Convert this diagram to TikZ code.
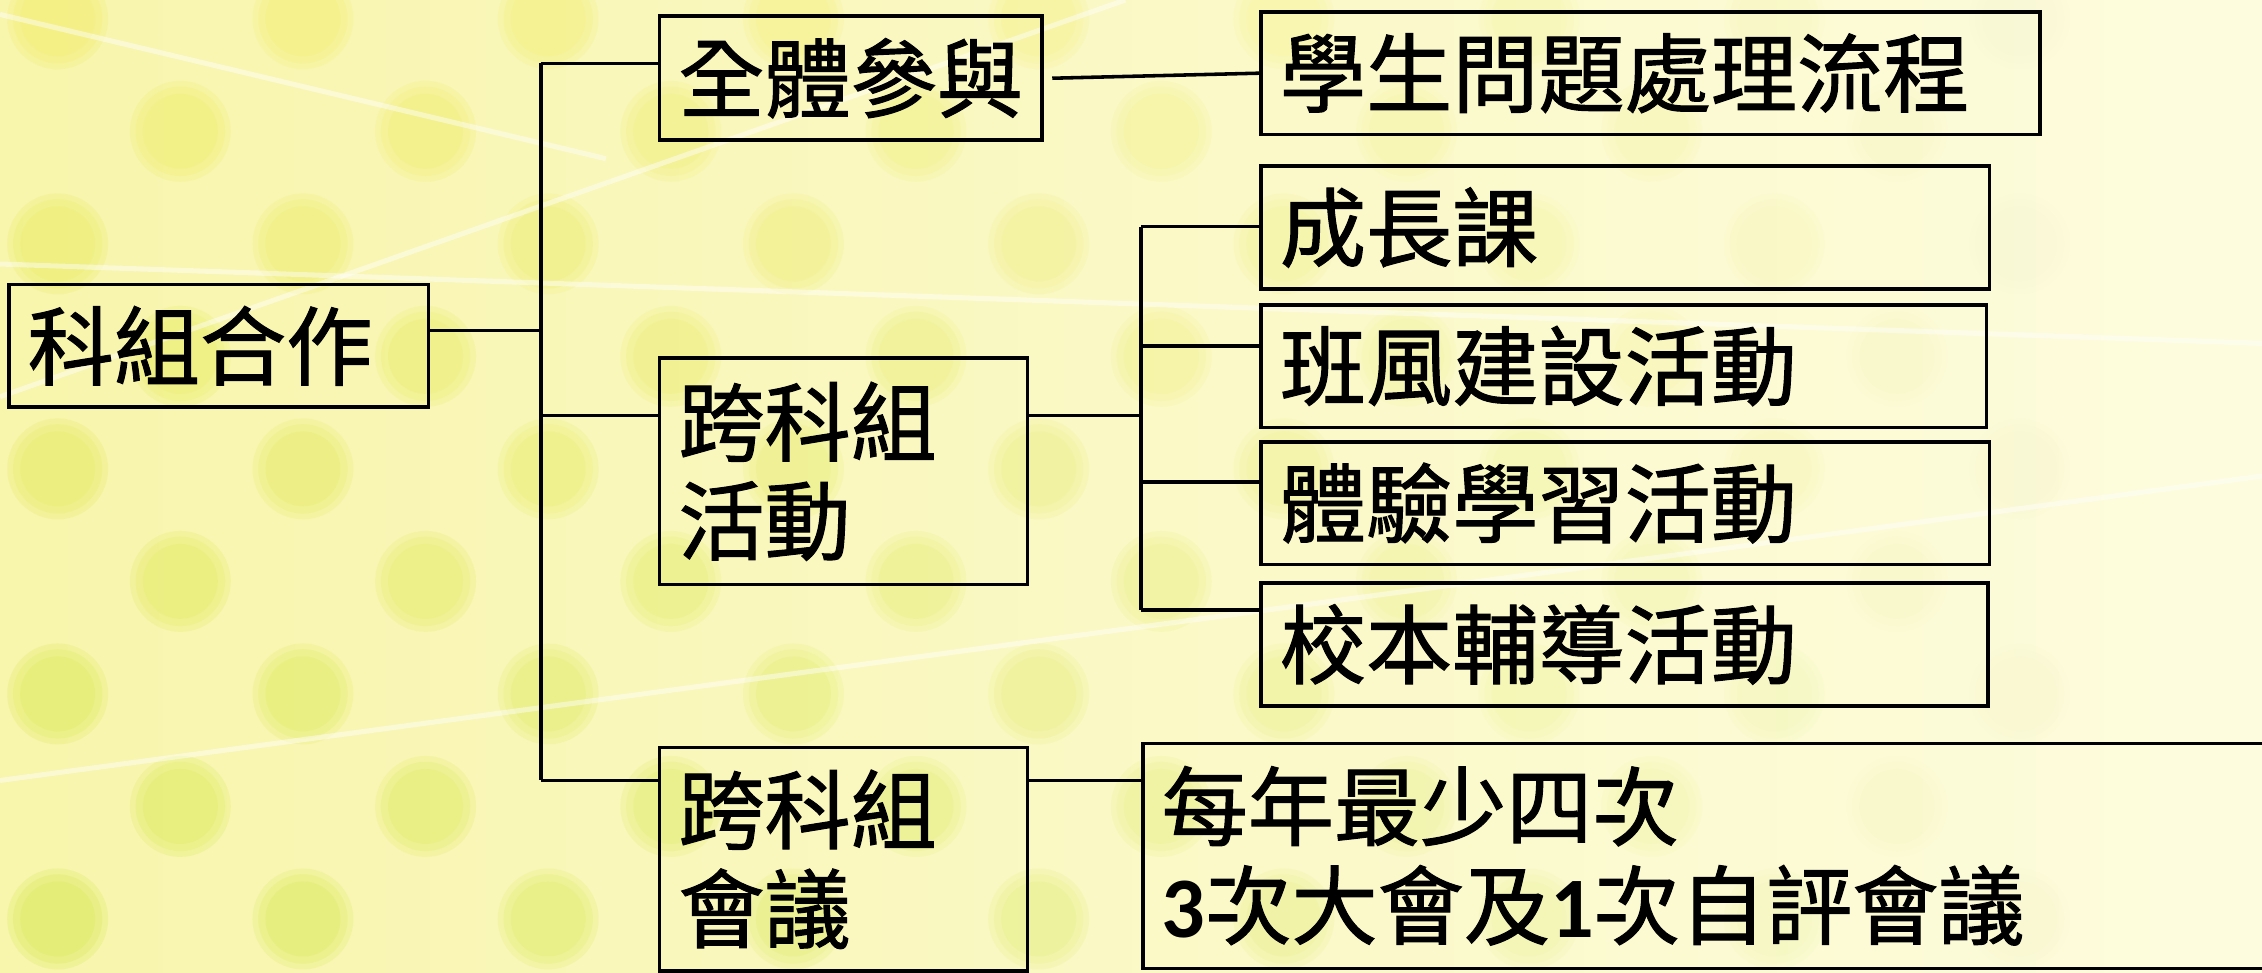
\documentclass[tikz,border=0pt]{standalone}
\usepackage{fontspec}
\newfontfamily\cjk[FakeBold=1.2]{Noto Sans CJK TC}
\newfontfamily\numfont{Carlito}
\definecolor{bgleft}{RGB}{248,245,172}
\definecolor{bgright}{RGB}{253,252,222}
\definecolor{dotyellow}{RGB}{242,238,100}
\definecolor{dotgreen}{RGB}{210,232,70}
\tikzset{
  orgbox/.style={draw, line width=1.4pt, inner xsep=0.26cm, inner ysep=0pt,
    align=left, anchor=north west, font=\cjk\fontsize{34}{39}\selectfont},
  streak/.style={white, opacity=0.45, line width=2pt},
}

\begin{document}
\begin{tikzpicture}[x=0.02cm, y=-0.02cm, line width=1.4pt]
            \clip (0,0) rectangle (1568,674);
            \fill[left color=bgleft, right color=bgright] (0,0) rectangle (1568,674);
            \foreach \k in {0,...,8}
              \foreach \i in {0,...,9} {
                \pgfmathsetmacro\dx{40+170*\i+85*mod(\k,2)}
                \pgfmathsetmacro\dy{13+78*\k}
                \pgfmathsetmacro\op{max(0,0.22*(1-\dx/1450))}
                \pgfmathtruncatemacro\gm{min(100,\dy/6.74)}
                \foreach \r in {0.70,0.62,0.52}
                  \fill[dotgreen!\gm!dotyellow, opacity=\op] (\dx,\dy) circle (\r cm);
              }
            \draw[streak] (0,183) -- (1568,238);
            \draw[streak] (0,275) -- (780,0);
            \draw[streak] (0,10) -- (420,110);
            \draw[streak] (0,541) -- (1568,330);

            \node[orgbox, minimum height=1.70cm, text width=5.30cm] (root) at (5,196) {科組合作};
            \node[orgbox, minimum height=1.72cm, text width=4.78cm] (all) at (456,10) {全體參與};
            \node[orgbox, minimum height=1.70cm, text width=10.28cm] (proc) at (873,7) {學生問題處理流程};
            \node[orgbox, minimum height=3.14cm, text width=4.58cm] (cross) at (456,247) {跨科組\\活動};
            \node[orgbox, minimum height=1.70cm, text width=9.58cm] (grow) at (873,114) {成長課};
            \node[orgbox, minimum height=1.70cm, text width=9.54cm] (class) at (873,210) {班風建設活動};
            \node[orgbox, minimum height=1.70cm, text width=9.58cm] (exp) at (873,305) {體驗學習活動};
            \node[orgbox, minimum height=1.70cm, text width=9.56cm] (guide) at (873,403) {校本輔導活動};
            \node[orgbox, minimum height=3.10cm, text width=4.58cm] (meet) at (456,517) {跨科組\\會議};
            \node[orgbox, minimum height=3.12cm, text width=15.6cm] (freq) at (791,514)
              {每年最少四次\\{\numfont\bfseries 3}次大會及{\numfont\bfseries 1}次自評會議};

            \coordinate (j0) at (375,229);
            \coordinate (j1) at (375,44);
            \coordinate (j2) at (375,288);
            \coordinate (j3) at (375,541);
            \draw (root.east |- j0) -- (j0);
            \draw (j1) -- (j3);
            \draw (j1) -- (j1 -| all.west);
            \draw (j2) -- (j2 -| cross.west);
            \draw (j3) -- (j3 -| meet.west);
            \draw ([xshift=0.12cm]all.east) -- (proc.west);

            \coordinate (k1) at (791,157);
            \coordinate (k2) at (791,240);
            \coordinate (k3) at (791,334);
            \coordinate (k4) at (791,423);
            \draw (cross.east |- j2) -- (k1 |- j2);
            \draw (k1) -- (k4);
            \draw (k1) -- (k1 -| grow.west);
            \draw (k2) -- (k2 -| class.west);
            \draw (k3) -- (k3 -| exp.west);
            \draw (k4) -- (k4 -| guide.west);
            \draw (meet.east |- j3) -- (freq.west |- j3);
        \end{tikzpicture}
\end{document}
